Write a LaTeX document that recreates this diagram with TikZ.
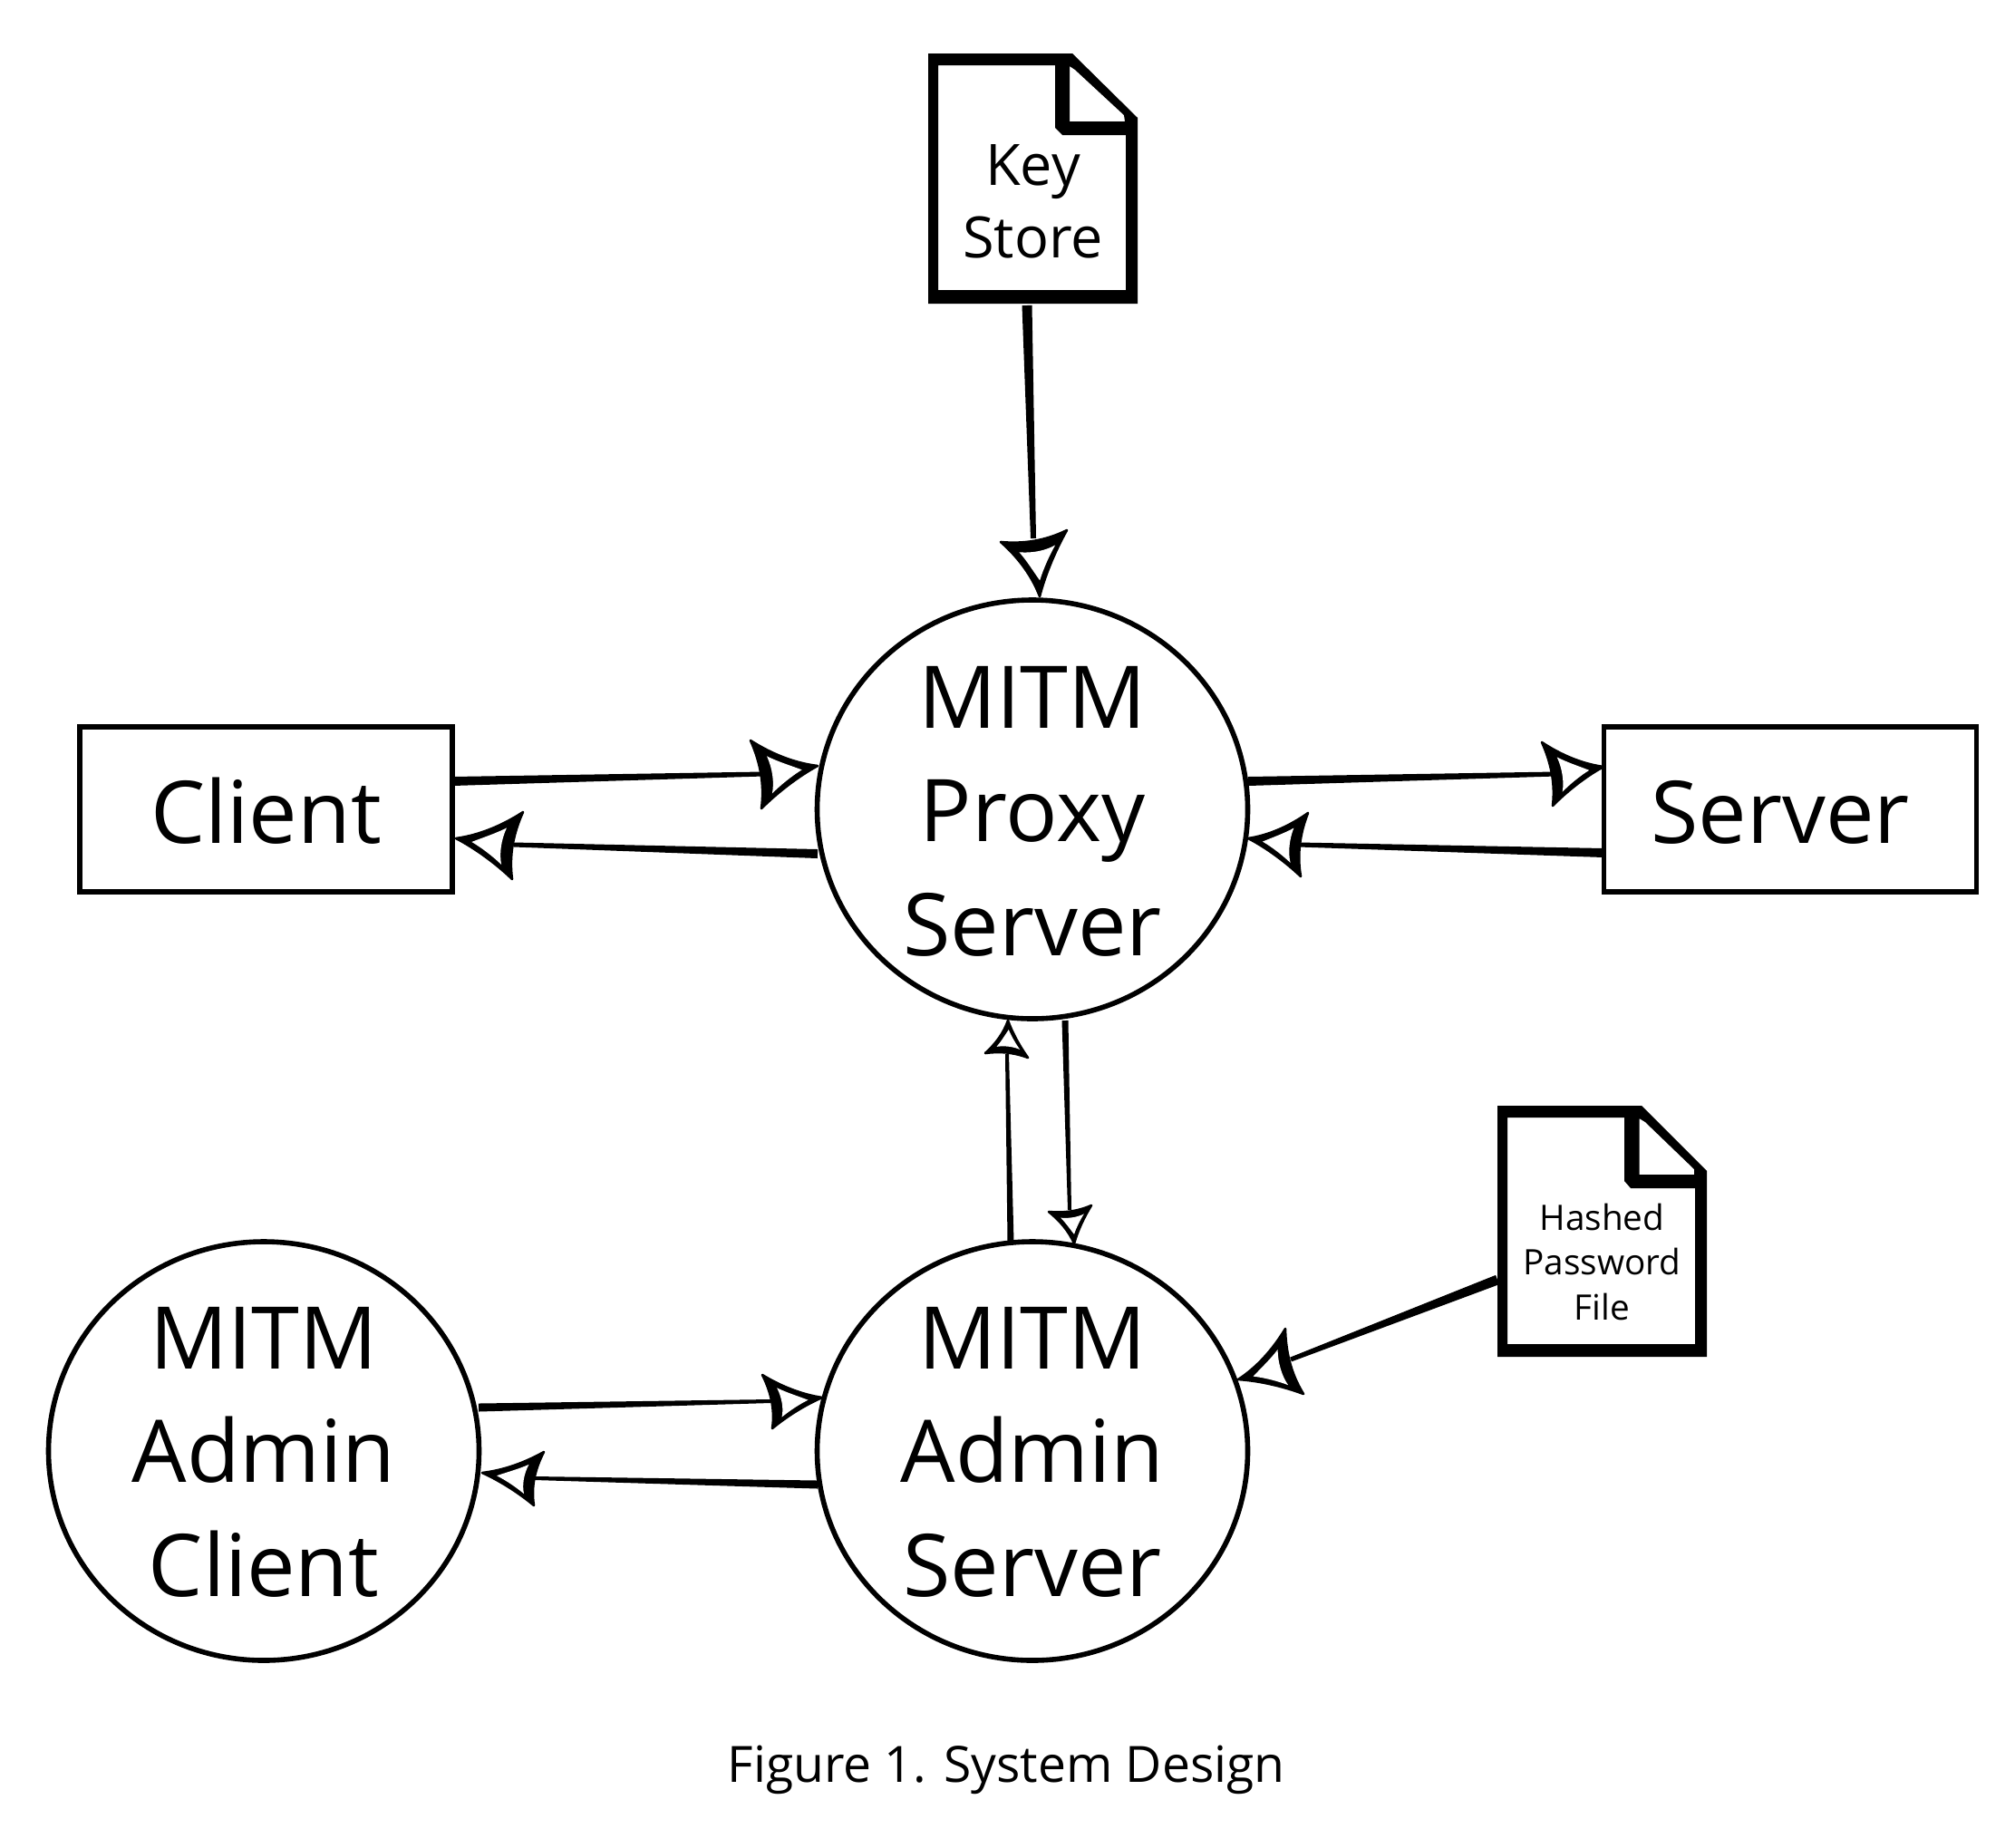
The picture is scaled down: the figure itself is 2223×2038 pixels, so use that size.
\documentclass[tikz,border=0pt]{standalone}
\usepackage{fontspec}
\setmainfont{Open Sans}
\usetikzlibrary{calc,shapes.geometric}
\newcommand\ct[3][0pt]{\makebox[0pt]{\kern#1\smash{\raisebox{#2}{\begin{tabular}[t]{@{}c@{}}#3\end{tabular}}}}}
\newcommand\hhead[3]{%
  \coordinate (tmpa) at (#1); \coordinate (tmpb) at (#2); \coordinate (tmpc) at (#3);
  \begin{scope}[x={($(tmpb)-(tmpa)$)},y={($(tmpc)-(tmpa)$)},shift={(tmpa)}]
    \filldraw[black,line width=2.6pt,line join=round] (0,0) .. controls (.263,.093) and (.611,.087) .. (1,0)
      .. controls (.633,.271) and (.288,.597) .. (0,1)
      .. controls (.049,.668) and (.056,.289) .. (0,0) -- cycle;
    \fill[white] (.105,.155) .. controls (.267,.155) and (.442,.17) .. (.63,.15)
      .. controls (.41,.313) and (.215,.514) .. (.09,.7)
      .. controls (.115,.528) and (.125,.321) .. (.105,.155) -- cycle;
  \end{scope}}
\tikzset{
  bigtext/.style={font=\fontsize{95.5}{125.5}\selectfont},
  proc/.style={ellipse,draw=black,line width=5.6pt,fill=white,minimum width=475pt,minimum height=462pt,inner sep=0pt,outer sep=0pt,bigtext},
  ext/.style={rectangle,draw=black,line width=5.6pt,fill=white,minimum width=411pt,minimum height=182pt,inner sep=0pt,outer sep=0pt,bigtext},
  docbox/.style={rectangle,inner sep=0pt,outer sep=0pt},
  tapered/.style 2 args={draw=none,fill=black,to path={
    ($(\tikztostart)!#1/2!90:(\tikztotarget)$) -- ($(\tikztostart)!#1/2!-90:(\tikztotarget)$)
    -- ($(\tikztotarget)!#2/2!90:(\tikztostart)$) -- ($(\tikztotarget)!#2/2!-90:(\tikztostart)$) -- cycle}},
}
\begin{document}
\begin{tikzpicture}[x=1pt,y=-1pt]
\useasboundingbox (0,0) rectangle (2223,2038);
% processes and externals
\node[proc] (proxy) at (1139,893) {\ct{90pt}{MITM\\Proxy\\Server}};
\node[proc] (adminsrv) at (1139,1601) {\ct{91pt}{MITM\\Admin\\Server}};
\node[proc] (admincli) at (291,1601) {\ct{91pt}{MITM\\Admin\\Client}};
\node[ext] (client) at (293.5,893) {\ct{-37pt}{Client}};
\node[ext] (server) at (1975,893) {\ct[-22pt]{-37pt}{Server}};
% documents
\fill[black,even odd rule] (1024,59) -- (1183,59) -- (1255,130) -- (1255,335) -- (1024,335) -- cycle
  (1035,72) -- (1164,72) -- (1164,141) -- (1172,149) -- (1242,149) -- (1242,320) -- (1035,320) -- cycle
  (1180,73) -- (1186,77) -- (1240,127) -- (1241,134) -- (1180,134) -- cycle;
\node[docbox,font=\fontsize{63}{80}\selectfont] (keystore) at (1139.5,197) {\ct{-7pt}{Key\\Store}};
\fill[black,even odd rule] (1652,1220) -- (1811,1220) -- (1883,1292) -- (1883,1497) -- (1652,1497) -- cycle
  (1663,1233) -- (1792,1233) -- (1792,1303) -- (1799,1311) -- (1870,1311) -- (1870,1483) -- (1663,1483) -- cycle
  (1808.5,1234) -- (1815,1238) -- (1869,1290) -- (1869,1296) -- (1808.5,1296) -- cycle;
\node[docbox,font=\fontsize{38.7}{49.5}\selectfont] (hashed) at (1767.5,1358) {\ct{1pt}{Hashed\\Password\\File}};
% connector ends at the heads
\coordinate (e1) at (842,854);
\coordinate (e2) at (567,932);
\coordinate (e3) at (1716,854);
\coordinate (e4) at (1433,932);
\coordinate (e5) at (1140,594);
\coordinate (e6) at (1424,1500);
\coordinate (e7) at (1111,1163);
\coordinate (e8) at (1180,1335);
\coordinate (e9) at (850,1546);
\coordinate (e10) at (590,1631);
\coordinate (s5) at (1133,337);
\coordinate (s6) at (1652,1412);
% connectors
\draw[tapered={10pt}{5pt}] ([yshift=31pt]client.east) to (e1);
\draw[tapered={10pt}{5pt}] ([xshift=-237pt,yshift=-49pt]proxy.center) to (e2);
\draw[tapered={10pt}{5pt}] ([xshift=238pt,yshift=31pt]proxy.center) to (e3);
\draw[tapered={10pt}{5pt}] ([yshift=-48pt]server.west) to (e4);
\draw[tapered={11pt}{6pt}] (s5) to (e5);
\draw[tapered={11pt}{5pt}] (s6) to (e6);
\draw[tapered={7pt}{4pt}] ([xshift=-24pt]adminsrv.north) to (e7);
\draw[tapered={7pt}{4pt}] ([xshift=36pt,yshift=-233pt]proxy.center) to (e8);
\draw[tapered={9pt}{4pt}] ([xshift=237pt,yshift=48pt]admincli.center) to (e9);
\draw[tapered={9pt}{4pt}] ([xshift=-237pt,yshift=-37pt]adminsrv.center) to (e10);
% heads
\hhead{902,845}{828,817}{840,892}
\hhead{503,925}{577,896}{565,970}
\hhead{1769,846}{1701,819}{1713,889}
\hhead{1377,925}{1443,897}{1435,967}
\hhead{1147,658}{1104,598}{1177,585}
\hhead{1366,1522}{1418,1466}{1438,1538}
\hhead{1112,1126}{1087,1162}{1134,1167}
\hhead{1185,1372}{1157,1337}{1204,1330}
\hhead{907,1542}{841,1517}{852,1576}
\hhead{532,1625}{600,1602}{589,1661}
% caption
\node[anchor=base,font=\fontsize{55.2}{60}\selectfont,inner sep=0pt] (caption) at (1110,1966) {Figure 1. System Design};
\end{tikzpicture}
\end{document}
